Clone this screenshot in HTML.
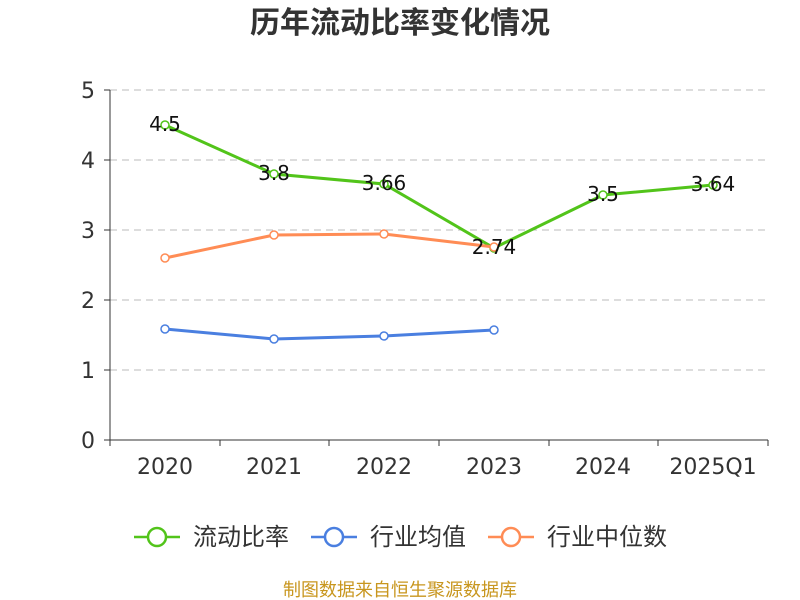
<!DOCTYPE html>
<html><head><meta charset="utf-8"><style>body{margin:0;background:#fff}svg{display:block}text{font-family:"DejaVu Sans","Noto Sans CJK SC",sans-serif}</style></head><body>
<svg width="800" height="600" xmlns="http://www.w3.org/2000/svg">
<text x="400" y="33" text-anchor="middle" font-size="30" font-weight="bold" fill="#333" style="font-family:'Noto Sans CJK SC',sans-serif">历年流动比率变化情况</text>
<g stroke="#bbb" stroke-dasharray="7,5" stroke-width="1">
<line x1="110" y1="90" x2="768" y2="90"/><line x1="110" y1="160" x2="768" y2="160"/><line x1="110" y1="230" x2="768" y2="230"/><line x1="110" y1="300" x2="768" y2="300"/><line x1="110" y1="370" x2="768" y2="370"/></g>
<g stroke="#333" stroke-width="1">
<line x1="110" y1="90" x2="110" y2="440"/><line x1="110" y1="440" x2="768" y2="440"/>
<line x1="104" y1="90" x2="110" y2="90"/><line x1="104" y1="160" x2="110" y2="160"/><line x1="104" y1="230" x2="110" y2="230"/><line x1="104" y1="300" x2="110" y2="300"/><line x1="104" y1="370" x2="110" y2="370"/><line x1="104" y1="440" x2="110" y2="440"/>
<line x1="110" y1="440" x2="110" y2="446"/><line x1="220" y1="440" x2="220" y2="446"/><line x1="329" y1="440" x2="329" y2="446"/><line x1="439" y1="440" x2="439" y2="446"/><line x1="549" y1="440" x2="549" y2="446"/><line x1="658" y1="440" x2="658" y2="446"/><line x1="768" y1="440" x2="768" y2="446"/></g>
<g font-size="22" fill="#333" text-anchor="end"><text x="95" y="98">5</text><text x="95" y="168">4</text><text x="95" y="238">3</text><text x="95" y="308">2</text><text x="95" y="378">1</text><text x="95" y="448">0</text></g>
<g font-size="22" fill="#333" text-anchor="middle"><text x="165" y="474">2020</text><text x="274" y="474">2021</text><text x="384" y="474">2022</text><text x="494" y="474">2023</text><text x="603" y="474">2024</text><text x="713" y="474">2025Q1</text></g>
<polyline fill="none" stroke="#52c41a" stroke-width="3" points="165,125 274,174 384,184 494,248 603,195 713,185"/>
<polyline fill="none" stroke="#ff8c55" stroke-width="3" points="165,258 274,235 384,234 494,247"/>
<polyline fill="none" stroke="#4a7fe0" stroke-width="3" points="165,329 274,339 384,336 494,330"/>
<g fill="#fff" stroke-width="1.5">
<g stroke="#52c41a"><circle cx="165" cy="125" r="4"/><circle cx="274" cy="174" r="4"/><circle cx="384" cy="184" r="4"/><circle cx="494" cy="248" r="4"/><circle cx="603" cy="195" r="4"/><circle cx="713" cy="185" r="4"/></g>
<g stroke="#ff8c55"><circle cx="165" cy="258" r="4"/><circle cx="274" cy="235" r="4"/><circle cx="384" cy="234" r="4"/><circle cx="494" cy="247" r="4"/></g>
<g stroke="#4a7fe0"><circle cx="165" cy="329" r="4"/><circle cx="274" cy="339" r="4"/><circle cx="384" cy="336" r="4"/><circle cx="494" cy="330" r="4"/></g></g>
<g font-size="20" fill="#111" text-anchor="middle"><text x="165" y="131">4.5</text><text x="274" y="180">3.8</text><text x="384" y="190">3.66</text><text x="494" y="254">2.74</text><text x="603" y="201">3.5</text><text x="713" y="191">3.64</text></g>
<g stroke-width="2.5" fill="#fff">
<line x1="134" y1="537" x2="180" y2="537" stroke="#52c41a"/><circle cx="157" cy="537" r="9" stroke="#52c41a"/>
<line x1="311" y1="537" x2="357" y2="537" stroke="#4a7fe0"/><circle cx="334" cy="537" r="9" stroke="#4a7fe0"/>
<line x1="488" y1="537" x2="534" y2="537" stroke="#ff8c55"/><circle cx="511" cy="537" r="9" stroke="#ff8c55"/></g>
<g font-size="24" fill="#333" style="font-family:'Noto Sans CJK SC',sans-serif"><text x="193" y="545">流动比率</text><text x="370" y="545">行业均值</text><text x="547" y="545">行业中位数</text></g>
<text x="400" y="596" text-anchor="middle" font-size="18" fill="#c8961e" style="font-family:'Noto Sans CJK SC',sans-serif">制图数据来自恒生聚源数据库</text>
</svg></body></html>
